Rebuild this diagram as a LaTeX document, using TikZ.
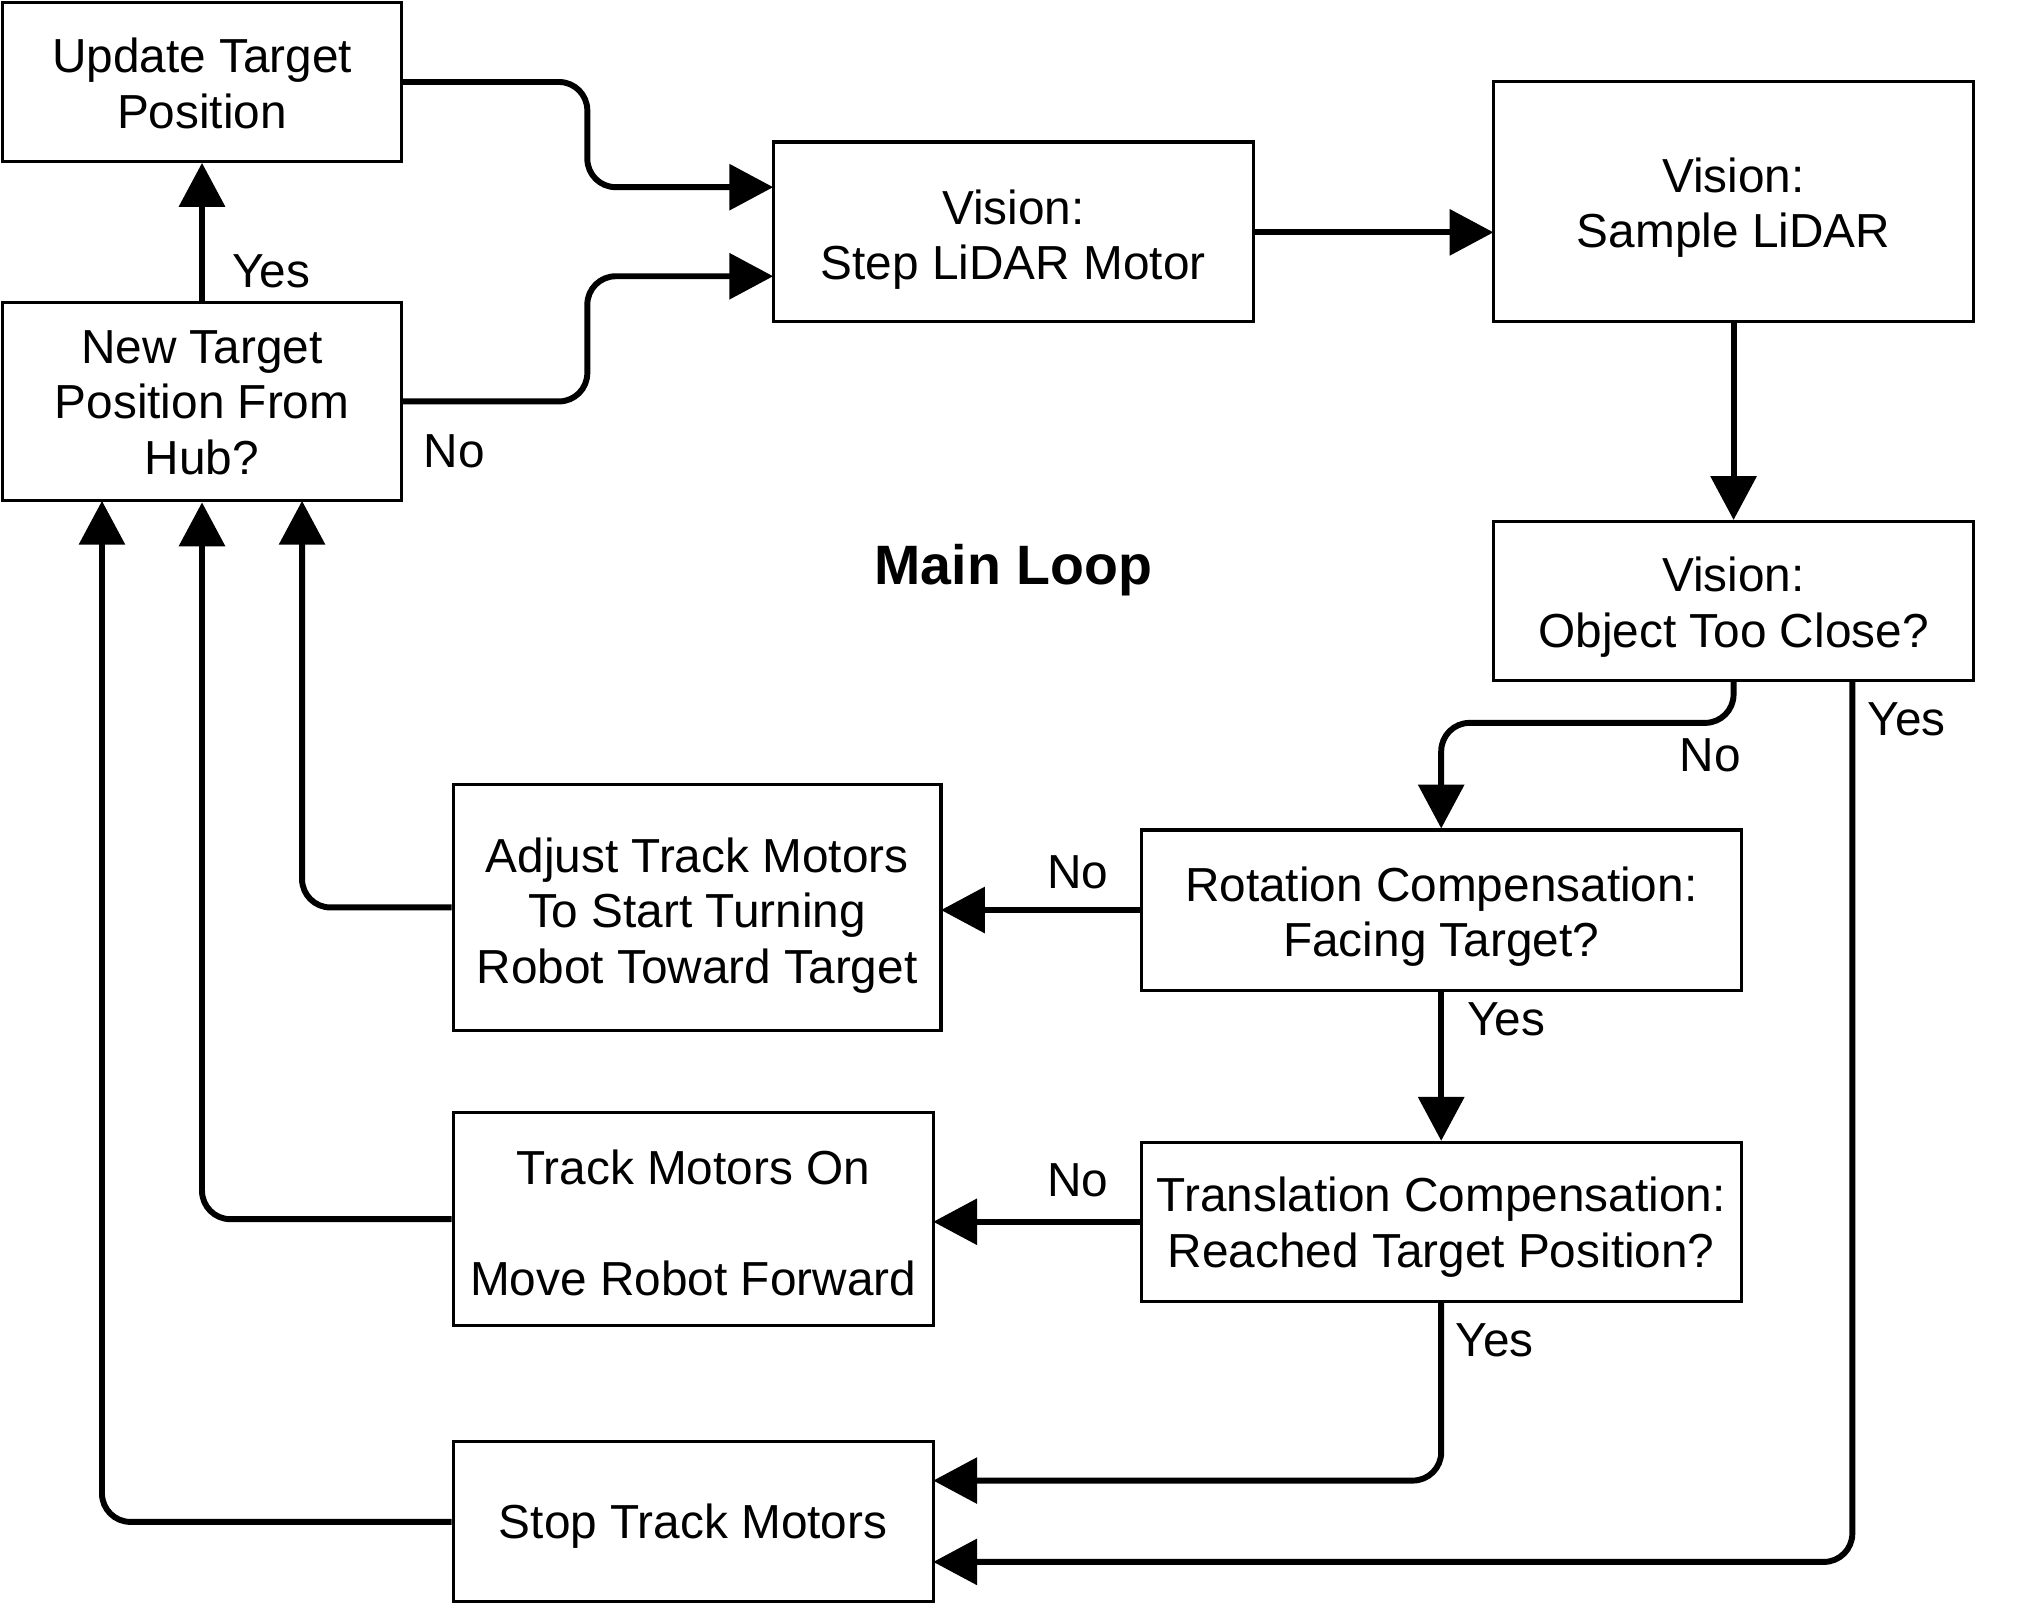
\documentclass[tikz,border=0pt]{standalone}
\usepackage{fontspec}
\setmainfont{Liberation Sans}
\usetikzlibrary{arrows.meta}
\begin{document}
\begin{tikzpicture}[x=1pt,y=-1pt,
  box/.style={draw,line width=2.4pt,inner sep=0pt},
  txt/.style={align=center,inner sep=0pt,font=\fontsize{37}{43}\selectfont},
  conn/.style={line width=4.6pt,rounded corners=22pt,
    -{Triangle[length=34pt,width=35pt]}},
  lbl/.style={font=\fontsize{37}{43}\selectfont,inner sep=0pt}]
\useasboundingbox (0,0) rectangle (1568,1243);
\node[box,minimum width=309pt,minimum height=123pt,label={[txt,yshift=-1pt]center:Update Target\\Position}] (upd) at (156.5,63.5) {};
\node[box,minimum width=309pt,minimum height=154pt,label={[txt,yshift=-1pt]center:New Target\\Position From\\Hub?}] (hub) at (156.5,311) {};
\node[box,minimum width=372pt,minimum height=139pt,label={[txt,yshift=-6pt]center:Vision:\\Step LiDAR Motor}] (step) at (785,179.5) {};
\node[box,minimum width=372pt,minimum height=186pt,label={[txt,yshift=-5pt]center:Vision:\\Sample LiDAR}] (samp) at (1343,156) {};
\node[box,minimum width=372pt,minimum height=123pt,label={[txt,yshift=-5pt]center:Vision:\\Object Too Close?}] (close) at (1343,465.5) {};
\node[box,minimum width=465pt,minimum height=124pt,label={[txt,yshift=-5pt]center:Rotation Compensation:\\Facing Target?}] (rot) at (1116.5,705) {};
\node[box,minimum width=465pt,minimum height=123pt,label={[txt,yshift=-4pt]center:Translation Compensation:\\Reached Target Position?}] (trans) at (1116.5,946.5) {};
\node[box,minimum width=378pt,minimum height=190pt,label={[txt,yshift=-6pt]center:Adjust Track Motors\\To Start Turning\\Robot Toward Target}] (adj) at (540,703) {};
\node[box,minimum width=372pt,minimum height=165pt,label={[txt,yshift=-3pt]center:Track Motors On\\\strut\\Move Robot Forward}] (fwd) at (537,944.5) {};
\node[box,minimum width=372pt,minimum height=124pt,label={[txt,yshift=-3pt]center:Stop Track Motors}] (stop) at (537,1179) {};
\node[font=\fontsize{43}{50}\selectfont\bfseries,inner sep=0pt] (title) at (785,442) {Main Loop};

% labels
\node[lbl] (l1) at (210,210) {Yes};
\node[lbl] (l2) at (352,350) {No};
\node[lbl] (l3) at (1325,585) {No};
\node[lbl] (l4) at (1477,557) {Yes};
\node[lbl] (l5) at (835,676) {No};
\node[lbl] (l6) at (1167,790) {Yes};
\node[lbl] (l7) at (835,914) {No};
\node[lbl] (l8) at (1158,1038) {Yes};

% coordinates
\coordinate (s1) at (599,145);
\coordinate (s2) at (599,214);
\coordinate (hubE) at (311,311);
\coordinate (stepE) at (971,180);
\coordinate (sampW) at (1157,180);
\coordinate (adjE) at (729,705);
\coordinate (fwdE) at (723,946.5);
\coordinate (closeY) at (1435,527);
\coordinate (stopA) at (723,1147);
\coordinate (stopB) at (723,1210);
\coordinate (hubA) at (79,388);
\coordinate (hubC) at (234,388);

\draw[conn] (upd.east) -- (455,63.5) -- (455,145) -- (s1);
\draw[conn] (hubE) -- (455,311) -- (455,214) -- (s2);
\draw[conn] (hub.north) -- (upd.south);
\draw[conn] (stepE) -- (sampW);
\draw[conn] (samp.south) -- (close.north);
\draw[conn] (close.south) -- (1343,560) -- (1116.5,560) -- (rot.north);
\draw[conn] (closeY) -- (1435,1210) -- (stopB);
\draw[conn] (rot.west) -- (adjE);
\draw[conn] (rot.south) -- (trans.north);
\draw[conn] (trans.west) -- (fwdE);
\draw[conn] (trans.south) -- (1116.5,1147) -- (stopA);
\draw[conn] (adj.west) -- (234,703) -- (hubC);
\draw[conn] (fwd.west) -- (156.5,944.5) -- (hub.south);
\draw[conn] (stop.west) -- (79,1179) -- (hubA);
\end{tikzpicture}
\end{document}
